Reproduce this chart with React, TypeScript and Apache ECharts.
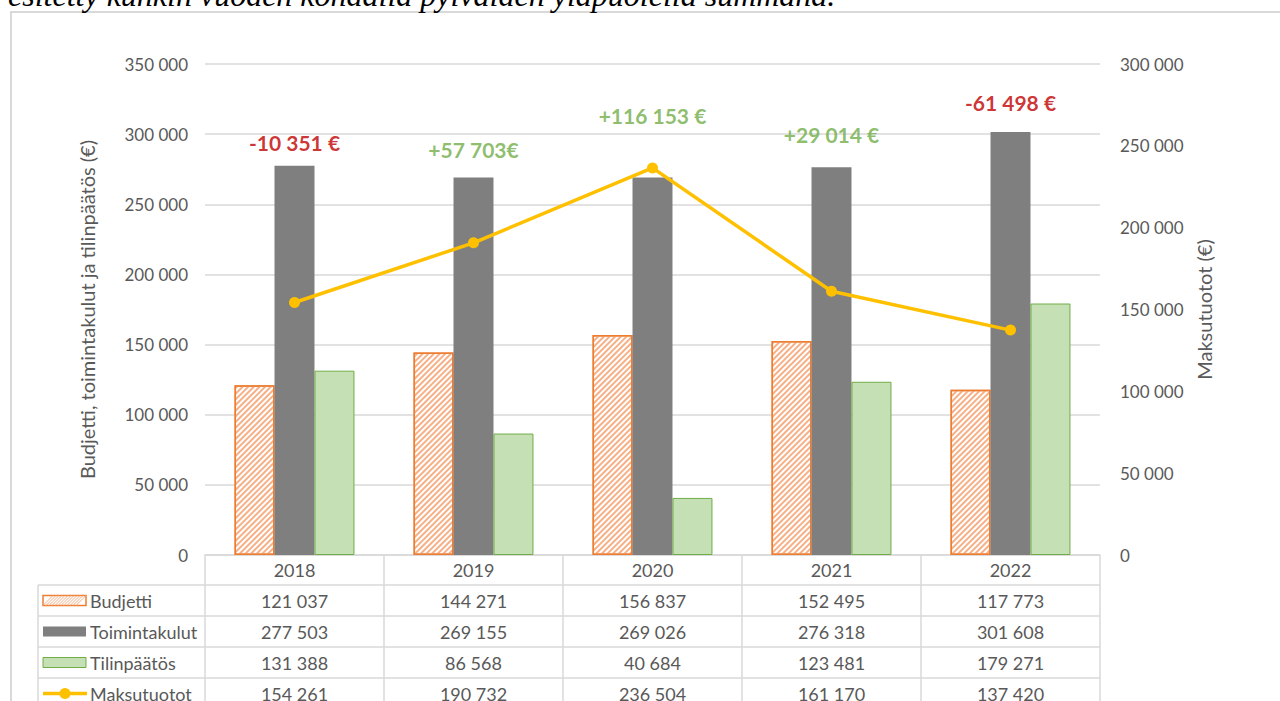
import React, { useEffect, useRef } from "react";
import * as echarts from "echarts";

const years = ["2018", "2019", "2020", "2021", "2022"];
const budjetti = [121037, 144271, 156837, 152495, 117773];
const toimintakulut = [277503, 269155, 269026, 276318, 301608];
const tilinpaatos = [131388, 86568, 40684, 123481, 179271];
const maksutuotot = [154261, 190732, 236504, 161170, 137420];
const differenceLabels = ["-10 351 €", "+57 703€", "+116 153 €", "+29 014 €", "-61 498 €"];
const differenceLevels = [293700, 288700, 313600, 299400, 322200];
const seriesNames = ["Budjetti", "Toimintakulut", "Tilinpäätös", "Maksutuotot"];
const leftAxisName = "Budjetti, toimintakulut ja tilinpäätös (€)";
const rightAxisName = "Maksutuotot (€)";
const headerText = "esitetty kunkin vuoden kohdalla pylväiden yläpuolella summana.";

const FONT = "Lato, 'Noto Sans', sans-serif";
const TXT = "#595959";
const GRIDC = "#D9D9D9";
const ORANGE = "#ED7D31";
const GREY = "#7F7F7F";
const GREEN_FILL = "#C5E0B4";
const GREEN_LINE = "#70AD47";
const YELLOW = "#FFC000";

const fmt = (n: number) => String(n).replace(/\B(?=(\d{3})+(?!\d))/g, " ");

export default function App() {
  const ref = useRef<HTMLDivElement>(null);
  useEffect(() => {
    if (!ref.current) return;
    const chart = echarts.init(ref.current, null, { renderer: "svg" });
    const option: any = {
      animation: false,
      backgroundColor: "#ffffff",
      grid: { left: 205, right: 180, top: 64, bottom: 146 },
      xAxis: {
        type: "category",
        data: years,
        axisLine: { show: true, lineStyle: { color: GRIDC, width: 1.5 } },
        axisTick: { show: true, length: 150, lineStyle: { color: GRIDC, width: 1.5 } },
        axisLabel: { color: TXT, fontSize: 18, fontFamily: FONT, margin: 6 },
      },
      yAxis: [
        {
          type: "value",
          min: 0,
          max: 350000,
          interval: 50000,
          name: leftAxisName,
          nameLocation: "middle",
          nameGap: 108,
          nameTextStyle: { color: TXT, fontSize: 20, fontFamily: FONT },
          axisLine: { show: false },
          axisTick: { show: false },
          axisLabel: { color: TXT, fontSize: 17, fontFamily: FONT, margin: 17, formatter: (v: number) => fmt(v) },
          splitLine: { lineStyle: { color: GRIDC, width: 1.5 } },
        },
        {
          type: "value",
          min: 0,
          max: 300000,
          interval: 50000,
          name: rightAxisName,
          nameLocation: "middle",
          nameGap: 94,
          nameTextStyle: { color: TXT, fontSize: 20, fontFamily: FONT },
          axisLine: { show: false },
          axisTick: { show: false },
          axisLabel: { color: TXT, fontSize: 17, fontFamily: FONT, margin: 20, formatter: (v: number) => fmt(v) },
          splitLine: { show: false },
        },
      ],
      series: [
        {
          name: seriesNames[0],
          type: "bar",
          data: budjetti,
          barGap: "0%",
          barCategoryGap: "33%",
          itemStyle: {
            color: "#ffffff",
            borderColor: ORANGE,
            borderWidth: 1.5,
            decal: {
              symbol: "rect",
              symbolSize: 1,
              color: "#F6B087",
              dashArrayX: [1, 0],
              dashArrayY: [1.2, 2],
              rotation: -Math.PI / 4,
            },
          },
        },
        {
          name: seriesNames[1],
          type: "bar",
          data: toimintakulut,
          itemStyle: { color: GREY },
        },
        {
          name: seriesNames[2],
          type: "bar",
          data: tilinpaatos,
          itemStyle: { color: GREEN_FILL, borderColor: GREEN_LINE, borderWidth: 1 },
        },
        {
          name: seriesNames[3],
          type: "line",
          yAxisIndex: 1,
          data: maksutuotot,
          z: 5,
          symbol: "circle",
          symbolSize: 11,
          lineStyle: { color: YELLOW, width: 3.5 },
          itemStyle: { color: YELLOW },
        },
        {
          name: "Erotus",
          type: "scatter",
          yAxisIndex: 0,
          z: 6,
          symbol: "rect",
          symbolSize: 1,
          itemStyle: { color: "rgba(0,0,0,0)" },
          data: differenceLevels.map((v, i) => ({
            value: [years[i], v],
            label: {
              show: true,
              position: "inside",
              formatter: differenceLabels[i],
              color: differenceLabels[i].startsWith("-") ? "#C00000" : GREEN_LINE,
              fontSize: 21,
              fontWeight: "bold",
              fontFamily: FONT,
            },
          })),
        },
      ],
    };
    chart.setOption(option);

    const xs = years.map((y) => chart.convertToPixel({ xAxisIndex: 0 }, y) as number);
    const rowLines = [585, 616, 647, 678];
    const rowCenters = [600.5, 631.5, 662.5, 693.5];
    const tableRows = [budjetti, toimintakulut, tilinpaatos, maksutuotot];
    const xStart = 38;
    const xEnd = 1100;
    const g: any[] = [];

    g.push({
      type: "rect",
      shape: { x: 11, y: 12, width: 1300, height: 720 },
      style: { fill: "none", stroke: GRIDC, lineWidth: 2 },
      silent: true,
    });
    g.push({
      type: "text",
      x: 8,
      y: -5,
      style: {
        text: headerText,
        font: "italic 32px 'Liberation Serif', 'DejaVu Serif', serif",
        fill: "#000000",
        verticalAlign: "middle",
      },
    });
    rowLines.forEach((y) => {
      g.push({
        type: "line",
        shape: { x1: xStart, y1: y, x2: xEnd, y2: y },
        style: { stroke: GRIDC, lineWidth: 1.5 },
      });
    });
    g.push({
      type: "line",
      shape: { x1: xStart, y1: rowLines[0], x2: xStart, y2: 710 },
      style: { stroke: GRIDC, lineWidth: 1.5 },
    });
    tableRows.forEach((row, r) => {
      row.forEach((v, i) => {
        g.push({
          type: "text",
          x: xs[i],
          y: rowCenters[r],
          style: { text: fmt(v), fill: TXT, font: `18px ${FONT}`, align: "center", verticalAlign: "middle" },
        });
      });
      g.push({
        type: "text",
        x: 90,
        y: rowCenters[r],
        style: { text: seriesNames[r], fill: TXT, font: `18px ${FONT}`, align: "left", verticalAlign: "middle" },
      });
    });
    // legend keys
    const kx = 43, kw = 43, kh = 10;
    const ky0 = rowCenters[0] - kh / 2;
    g.push({
      type: "rect",
      shape: { x: kx, y: ky0, width: kw, height: kh },
      style: { fill: "#ffffff", stroke: ORANGE, lineWidth: 1.5 },
    });
    for (let k = 0; k * 3 + kh <= kw; k++) {
      g.push({
        type: "line",
        shape: { x1: kx + k * 3, y1: ky0 + kh, x2: kx + k * 3 + kh, y2: ky0 },
        style: { stroke: "#F6B087", lineWidth: 1 },
      });
    }
    g.push({
      type: "rect",
      shape: { x: kx, y: rowCenters[1] - kh / 2, width: kw, height: kh },
      style: { fill: GREY },
    });
    g.push({
      type: "rect",
      shape: { x: kx, y: rowCenters[2] - kh / 2, width: kw, height: kh },
      style: { fill: GREEN_FILL, stroke: GREEN_LINE, lineWidth: 1 },
    });
    g.push({
      type: "line",
      shape: { x1: kx, y1: rowCenters[3], x2: kx + kw + 1, y2: rowCenters[3] },
      style: { stroke: YELLOW, lineWidth: 3.5 },
    });
    g.push({
      type: "circle",
      shape: { cx: kx + 22, cy: rowCenters[3], r: 5.5 },
      style: { fill: YELLOW },
    });

    chart.setOption({ graphic: g });
    return () => chart.dispose();
  }, []);
  return (
    <div
      ref={ref}
      style={{ position: "absolute", left: 0, top: 0, width: 1280, height: 701 }}
    />
  );
}
